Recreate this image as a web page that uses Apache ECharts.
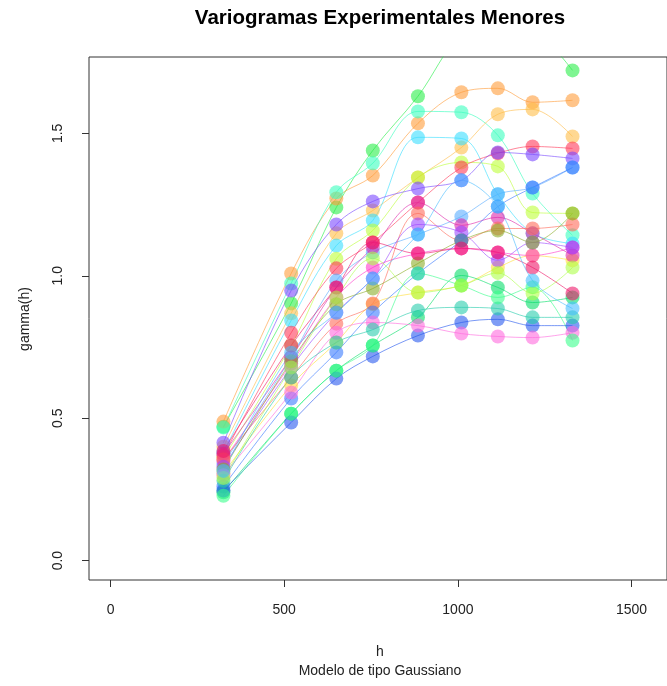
<!DOCTYPE html>
<html><head><meta charset="utf-8">
<script src="https://cdn.jsdelivr.net/npm/echarts@6/dist/echarts.min.js"></script>
<style>html,body{margin:0;padding:0;background:#fff}#c{width:667px;height:686px}</style>
</head><body><div id="c"></div>
<script>
const lags = [325, 520, 650, 755, 885, 1010, 1115, 1215, 1330];
const xTicks = [0, 500, 1000, 1500];
const yTicks = [0, 0.5, 1, 1.5];
const seriesColors = ['#22ee44','#ff9933','#33ffbb','#ffbb44','#33ddff','#bbff33','#ff3355','#7744ff',
  '#55aaff','#ffdd33','#ff33cc','#dd22aa','#ff6655','#9944ff','#88aa22','#3377ff',
  '#00dd66','#2255ee','#ff66dd','#22ccaa','#33ff88','#ee1166','#aaff44','#44bbff'];
const s01 = [0.470,0.903,1.240,1.440,1.630,1.850,1.900,1.870,1.721];
const s02 = [0.488,1.008,1.271,1.352,1.535,1.644,1.658,1.609,1.616];
const s03 = [0.467,0.973,1.293,1.395,1.577,1.574,1.493,1.289,1.142];
const s04 = [0.400,0.868,1.149,1.229,1.345,1.450,1.567,1.584,1.489];
const s05 = [0.380,0.843,1.106,1.194,1.486,1.482,1.286,1.149,1.113];
const s06 = [0.360,0.755,1.060,1.159,1.345,1.398,1.384,1.222,1.219];
const s07 = [0.369,0.800,1.026,1.117,1.257,1.380,1.430,1.454,1.447];
const s08 = [0.414,0.948,1.180,1.261,1.306,1.335,1.433,1.426,1.412];
const s09 = [0.340,0.713,0.983,1.082,1.145,1.208,1.286,1.310,1.380];
const s10 = [0.306,0.615,0.766,0.900,0.941,0.966,1.029,1.071,1.054];
const s11 = [0.351,0.692,0.924,1.029,1.078,1.096,1.082,1.071,1.099];
const s12 = [0.375,0.713,0.959,1.100,1.257,1.177,1.205,1.149,1.071];
const s13 = [0.355,0.643,0.832,0.903,1.219,1.124,1.166,1.166,1.180];
const s14 = [0.330,0.678,0.871,0.990,1.180,1.152,1.054,1.117,1.099];
const s15 = [0.320,0.700,0.900,0.955,1.043,1.124,1.159,1.117,1.219];
const s16 = [0.260,0.569,0.731,0.871,1.008,1.124,1.243,1.310,1.380];
const s17 = [0.240,0.516,0.667,0.755,0.854,1.001,0.959,0.906,0.924];
const s18 = [0.246,0.485,0.639,0.717,0.790,0.836,0.847,0.825,0.825];
const s19 = [0.300,0.590,0.800,0.836,0.825,0.797,0.787,0.783,0.800];
const s20 = [0.280,0.643,0.766,0.811,0.878,0.889,0.885,0.854,0.854];
const s21 = [0.228,0.516,0.667,0.755,1.008,0.966,0.924,0.960,0.773];
const s22 = [0.385,0.755,0.959,1.117,1.078,1.096,1.082,1.029,0.938];
const s23 = [0.290,0.678,0.924,1.061,0.941,0.966,1.010,0.938,1.029];
const s24 = [0.315,0.730,0.870,0.990,1.145,1.335,1.243,0.983,0.885];
const allSeries = [s01,s02,s03,s04,s05,s06,s07,s08,s09,s10,s11,s12,s13,s14,s15,s16,s17,s18,s19,s20,s21,s22,s23,s24];

const chart = echarts.init(document.getElementById('c'), null, {renderer:'canvas'});
const FONT = 'Liberation Sans, Arial, sans-serif';
function hexA(h, a){const r=parseInt(h.slice(1,3),16),g=parseInt(h.slice(3,5),16),b=parseInt(h.slice(5,7),16);return `rgba(${r},${g},${b},${a})`;}
const series = allSeries.map((vals, i) => ({
  type: 'line',
  data: vals.map((v, j) => [lags[j], v]),
  smooth: 0.35,
  symbol: 'circle',
  symbolSize: 14,
  clip: true,
  lineStyle: {width: 1, color: hexA(seriesColors[i], 0.6)},
  itemStyle: {color: hexA(seriesColors[i], 0.58), borderWidth: 0},
  emphasis: {disabled: true},
  animation: false
}));
chart.setOption({
  animation: false,
  backgroundColor: '#fff',
  grid: {left: 89, top: 57, width: 582, height: 523, show: true, borderColor: '#333', borderWidth: 1, backgroundColor: 'transparent'},
  xAxis: {type: 'value', min: -62, max: 1602,
    axisLine: {show: false, onZero: false}, splitLine: {show: false},
    axisTick: {show: true, customValues: xTicks, length: 7, lineStyle: {color: '#333'}},
    axisLabel: {customValues: xTicks, margin: 23, fontFamily: FONT, fontSize: 14, color: '#222', formatter: v => String(v)}},
  yAxis: {type: 'value', min: -0.068, max: 1.768,
    axisLine: {show: false, onZero: false}, splitLine: {show: false},
    axisTick: {show: true, customValues: yTicks, length: 7, lineStyle: {color: '#333'}},
    axisLabel: {customValues: yTicks, rotate: 90, margin: 24, fontFamily: FONT, fontSize: 14, color: '#222',
      formatter: v => v.toFixed(1)}},
  graphic: [
    {type:'text', x: 380, y: 18, style:{text:'Variogramas Experimentales Menores', font:'bold 20.5px '+FONT, fill:'#000', textAlign:'center', textVerticalAlign:'middle'}},
    {type:'text', x: 380, y: 652, style:{text:'h', font:'14px '+FONT, fill:'#222', textAlign:'center', textVerticalAlign:'middle'}},
    {type:'text', x: 380, y: 671, style:{text:'Modelo de tipo Gaussiano', font:'14px '+FONT, fill:'#222', textAlign:'center', textVerticalAlign:'middle'}},
    {type:'text', x: 25, y: 319, rotation: Math.PI/2, style:{text:'gamma(h)', font:'14px '+FONT, fill:'#222', textAlign:'center', textVerticalAlign:'middle'}}
  ],
  series: series
});
</script></body></html>
